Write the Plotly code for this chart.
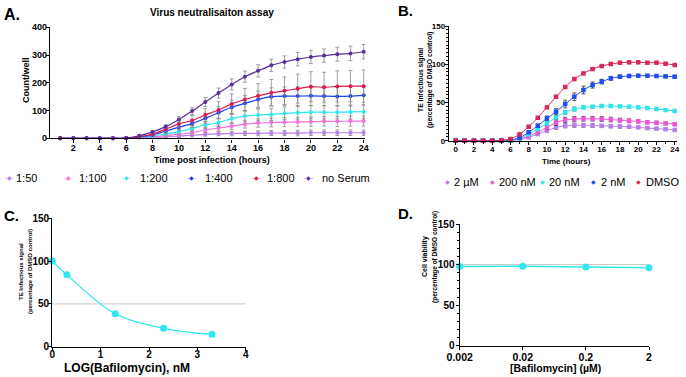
import plotly.graph_objects as go
import math

FONT = "Liberation Sans, Arial, sans-serif"
W, H = 686, 377

# ---------------- Panel A data ----------------
a_time = list(range(1, 25))
a_series_names = ["1:50", "1:100", "1:200", "1:400", "1:800", "no Serum"]
a_serum_50 = [0, 0, 0, 0, 0, 0, 2, 3, 5, 8, 11, 14, 16, 17, 18, 18, 19, 19, 19, 20, 20, 20, 20, 20]
a_serum_100 = [0, 0, 0, 0, 0, 0, 3, 5, 10, 15, 20, 30, 37, 44, 51, 55, 57, 58, 59, 60, 61, 61, 62, 62]
a_serum_200 = [0, 0, 0, 0, 0, 1, 4, 8, 16, 24, 36, 48, 57, 71, 80, 84, 86, 90, 92, 94, 94, 94, 95, 96]
a_serum_400 = [0, 0, 0, 0, 0, 1, 5, 12, 26, 40, 53, 72, 92, 112, 126, 140, 150, 152, 152, 153, 152, 151, 152, 155]
a_serum_800 = [0, 0, 0, 0, 0, 1, 6, 15, 33, 52, 64, 84, 102, 124, 140, 153, 164, 171, 179, 186, 184, 187, 188, 188]
a_no_serum = [0, 0, 0, 0, 0, 1, 9, 23, 42, 68, 98, 131, 163, 194, 222, 243, 263, 275, 285, 293, 298, 303, 306, 312]

a_err_50 = [0, 0, 0, 0, 0, 0, 1, 2, 3, 4, 5, 6, 7, 8, 8, 9, 9, 9, 10, 10, 10, 10, 10, 10]
a_err_100 = [0, 0, 0, 0, 0, 0, 1, 2, 3, 5, 7, 9, 11, 12, 14, 15, 16, 16, 17, 17, 17, 18, 18, 18]
a_err_200 = [0, 0, 0, 0, 0, 1, 2, 4, 6, 8, 10, 13, 15, 18, 20, 21, 22, 23, 23, 24, 24, 24, 25, 25]
a_err_400 = [0, 0, 0, 0, 0, 1, 2, 5, 8, 11, 14, 18, 22, 26, 28, 30, 32, 33, 34, 35, 35, 35, 36, 36]
a_err_800 = [0, 0, 0, 0, 0, 1, 3, 6, 10, 14, 18, 24, 30, 36, 40, 44, 48, 50, 52, 54, 54, 56, 56, 58]
a_err_no = [0, 0, 0, 0, 0, 1, 3, 5, 7, 10, 12, 16, 18, 20, 20, 22, 22, 22, 24, 24, 24, 25, 26, 26]

a_colors = ["#B77FEA", "#F070DC", "#2EE6EE", "#1F3FF2", "#D81B50", "#5B2D9E"]

# ---------------- Panel B data ----------------
b_time = list(range(0, 25))
b_series_names = ["2 µM", "200 nM", "20 nM", "2 nM", "DMSO"]
b_2um = [0, 0, 0, 0, 0, 0, 0.3, 1.6, 4.5, 8.6, 13.2, 17.4, 19.4, 20.2, 20.2, 19.9, 19.4, 19, 18.6, 18.2, 17.4, 16.5, 15.8, 14.9, 14.1]
b_200nm = [0, 0, 0, 0, 0, 0, 0.4, 2.1, 5.8, 11.2, 17.4, 23.6, 27.2, 28.3, 28.7, 28.7, 28.3, 27.6, 26.9, 26, 25.3, 24.1, 23.4, 22.6, 21.5]
b_20nm = [0, 0, 0, 0, 0, 0, 0.5, 3.1, 8.4, 15.3, 22.7, 30.6, 37.1, 41.4, 43.6, 44.5, 45.4, 45.4, 44.9, 44.5, 43.6, 42.7, 41.4, 40.1, 38.8]
b_2nm = [0, 0, 0, 0, 0, 0, 0.9, 3.9, 11, 19.6, 29.3, 37.9, 48, 57.5, 66.3, 72.8, 77.2, 81.6, 83.7, 84.6, 85, 85, 84.6, 84.1, 83.7]
b_dmso = [0, 0, 0, 0, 0, 0.5, 2.2, 8.3, 18.3, 30, 43.6, 57.5, 70.2, 80.6, 88, 93.7, 97.6, 100.3, 102, 102.5, 102.5, 102, 102, 100.7, 99]

b_err_2um = [0, 0, 0, 0, 0, 0, 0, 0.5, 1, 1.5, 2, 2.5, 2.5, 2.5, 2.5, 2.5, 2, 2, 2, 1.5, 1.5, 1.5, 1.5, 1, 1]
b_err_200nm = [0, 0, 0, 0, 0, 0, 0, 0.5, 1, 2, 3, 3.5, 3.5, 3.5, 3, 3, 3, 3, 2.5, 2.5, 2, 2, 2, 1.5, 1.5]
b_err_20nm = [0, 0, 0, 0, 0, 0, 0, 0.5, 1, 1.5, 2, 2.5, 2.5, 2.5, 2, 1.5, 1.5, 1.5, 1, 1, 1, 1, 1, 1, 1]
b_err_2nm = [0, 0, 0, 0, 0, 0, 0, 1, 1.5, 2, 3, 4, 5, 5, 5, 4, 3, 2.5, 2, 2, 1.5, 1.5, 1.5, 1.5, 1.5]
b_err_dmso = [0] * 25

b_colors = ["#B77FEA", "#EC55D6", "#2EE6EE", "#1F4FF2", "#D8285A"]

# ---------------- Panel C data ----------------
c_log_conc = [0, 0.301, 1.301, 2.301, 3.301]
c_signal = [100, 84, 38.5, 21.5, 14.5]
c_ref = 50

# ---------------- Panel D data ----------------
d_conc = [0.002, 0.02, 0.2, 2]
d_viability = [97.5, 98, 97, 96]
d_ref = 100
d_tick_labels = ["0.002", "0.02", "0.2", "2"]

CYAN = "#2EE6EE"

fig = go.Figure()

# Panel A traces
a_vals = [a_serum_50, a_serum_100, a_serum_200, a_serum_400, a_serum_800, a_no_serum]
a_errs = [a_err_50, a_err_100, a_err_200, a_err_400, a_err_800, a_err_no]
for name, vals, errs, col in zip(a_series_names, a_vals, a_errs, a_colors):
    fig.add_trace(go.Scatter(
        x=a_time, y=vals, name=name, mode="lines+markers", showlegend=False,
        line=dict(color=col, width=1.2, shape="spline", smoothing=0.6),
        marker=dict(color=col, size=4, symbol="circle"),
        error_y=dict(type="data", array=errs, visible=True, color="#8a8a8a", thickness=0.8, width=2),
        xaxis="x", yaxis="y", cliponaxis=False,
    ))

# Panel B traces
b_vals = [b_2um, b_200nm, b_20nm, b_2nm, b_dmso]
b_errs = [b_err_2um, b_err_200nm, b_err_20nm, b_err_2nm, b_err_dmso]
for name, vals, errs, col in zip(b_series_names, b_vals, b_errs, b_colors):
    fig.add_trace(go.Scatter(
        x=b_time, y=vals, name=name, mode="lines+markers", showlegend=False,
        line=dict(color=col, width=1.0, shape="spline", smoothing=0.6),
        marker=dict(color=col, size=4.5, symbol="square"),
        error_y=dict(type="data", array=errs, visible=True, color="#333333", thickness=0.8, width=2),
        xaxis="x2", yaxis="y2", cliponaxis=False,
    ))

# Panel C
fig.add_trace(go.Scatter(
    x=c_log_conc, y=c_signal, mode="lines+markers", showlegend=False,
    line=dict(color=CYAN, width=1.2, shape="spline", smoothing=1.0),
    marker=dict(color=CYAN, size=7),
    xaxis="x3", yaxis="y3", cliponaxis=False,
))

# Panel D
fig.add_trace(go.Scatter(
    x=d_conc, y=d_viability, mode="lines+markers", showlegend=False,
    line=dict(color=CYAN, width=1.5),
    marker=dict(color=CYAN, size=7),
    xaxis="x4", yaxis="y4", cliponaxis=False,
))

# reference lines
fig.add_shape(type="line", xref="x3 domain", yref="y3", x0=0, x1=1, y0=c_ref, y1=c_ref,
              line=dict(color="#C8C8C8", width=1), layer="below")
fig.add_shape(type="line", xref="x4 domain", yref="y4", x0=0, x1=1, y0=d_ref, y1=d_ref,
              line=dict(color="#C8C8C8", width=1), layer="below")


def px(p):
    return p / W


def py(p):
    return 1 - p / H


def tf(size):
    return dict(family=FONT, size=size, color="black", weight="bold")


def axis(**kw):
    base = dict(showline=True, linecolor="black", linewidth=1.4, ticks="outside", ticklen=3,
                tickwidth=1.2, tickcolor="black", showgrid=False, zeroline=False, automargin=False,
                tickfont=tf(9), fixedrange=True)
    base.update(kw)
    return base


layout = dict(
    template="none",
    width=W, height=H, margin=dict(l=0, r=0, t=0, b=0, autoexpand=False),
    paper_bgcolor="white", plot_bgcolor="white",
    font=dict(family=FONT, color="black"),
    showlegend=False,
    xaxis=axis(domain=[px(50), px(365)], range=[0.23, 24.1], tickvals=list(range(2, 25, 2)), anchor="y",
               ticklabelstandoff=-2),
    yaxis=axis(domain=[py(138.3), py(27.3)], range=[0, 400], tickvals=[0, 100, 200, 300, 400], anchor="x",
               ticklabelstandoff=-3),
    xaxis2=axis(domain=[px(449), px(677)], range=[-0.73, 24.25], tickvals=list(range(0, 25, 2)), anchor="y2",
                tickfont=tf(8), ticklabelstandoff=-3,
                minor=dict(ticks="outside", ticklen=2, dtick=1, tickcolor="black", tickwidth=1)),
    yaxis2=axis(domain=[py(140.7), py(26)], range=[0, 150], tickvals=[0, 50, 100, 150], anchor="x2",
                tickfont=tf(8), ticklabelstandoff=-2,
                minor=dict(ticks="outside", ticklen=2, dtick=5, tickcolor="black", tickwidth=1)),
    xaxis3=axis(domain=[px(52.3), px(245.7)], range=[0, 4], tickvals=[0, 1, 2, 3, 4], anchor="y3",
                tickfont=tf(10), ticklabelstandoff=-5),
    yaxis3=axis(domain=[py(346.7), py(218.3)], range=[0, 150], tickvals=[0, 50, 100, 150], anchor="x3",
                tickfont=tf(10), ticklabelstandoff=-3),
    xaxis4=axis(domain=[px(459.7), px(649)], type="log", range=[math.log10(0.002), math.log10(2)],
                tickvals=d_conc, ticktext=d_tick_labels, anchor="y4",
                tickfont=tf(10.5), ticklabelstandoff=-2),
    yaxis4=axis(domain=[py(345.7), py(224)], range=[0, 150], tickvals=[0, 50, 100, 150], anchor="x4",
                tickfont=tf(10), ticklabelstandoff=-1,
                minor=dict(ticks="outside", ticklen=2, dtick=10, tickcolor="black", tickwidth=1)),
)
fig.update_layout(**layout)


def ann(text, x, y, size, angle=0, bold=True, xanchor="center"):
    fig.add_annotation(text=text, x=px(x), y=py(y), xref="paper", yref="paper",
                       showarrow=False, textangle=angle, xanchor=xanchor, yanchor="middle",
                       font=dict(family=FONT, size=size, color="black", weight="bold" if bold else "normal"))


# legends (symbol + label) for panels A and B
a_leg_sym_x = [9, 68, 126, 191, 256, 308]
a_leg_txt_x = [14, 77, 138, 203, 265, 320]
for name, col, sx, tx in zip(a_series_names, a_colors, a_leg_sym_x, a_leg_txt_x):
    fig.add_annotation(text="-◆-", x=px(sx), y=py(178), xref="paper", yref="paper", showarrow=False,
                       xanchor="center", yanchor="middle", font=dict(family=FONT, size=6, color=col))
    ann(name, tx, 178, 11, bold=False, xanchor="left")

b_leg_sym_x = [447, 492, 542, 593, 638]
b_leg_txt_x = [452, 497, 547, 599, 644]
for name, col, sx, tx in zip(b_series_names, b_colors, b_leg_sym_x, b_leg_txt_x):
    fig.add_annotation(text="◆", x=px(sx), y=py(181.5), xref="paper", yref="paper", showarrow=False,
                       xanchor="center", yanchor="middle", font=dict(family=FONT, size=6, color=col))
    ann(name, tx, 181.5, 11, bold=False, xanchor="left")

# panel letters
ann("A.", 12, 14, 16)
ann("B.", 405, 11, 15)
ann("C.", 11, 215, 15)
ann("D.", 405, 214, 15)
# titles
ann("Virus neutralisaiton assay", 212, 12, 10)
ann("Count/well", 26, 80, 9, angle=-90)
ann("Time post infection (hours)", 212, 160, 9)
ann("TE Infectious signal", 421, 80, 6.8, angle=-90)
ann("(percentage of DMSO control)", 430, 80, 6.8, angle=-90)
ann("Time (hours)", 566, 161, 8)
ann("TE Infectious signal", 21, 272, 6, angle=-90)
ann("(percentage of DMSO control)", 30, 272, 6, angle=-90)
ann("LOG(Bafilomycin), nM", 127, 367.5, 12)
ann("Cell viability", 425, 257, 7, angle=-90)
ann("(percentage of DMSO control)", 435, 257, 6.5, angle=-90)
ann("[Bafilomycin] (µM)", 555, 368, 10.5)

fig.write_html("out.html", config={"displayModeBar": False},
               post_script="document.body.style.margin='0px';")
